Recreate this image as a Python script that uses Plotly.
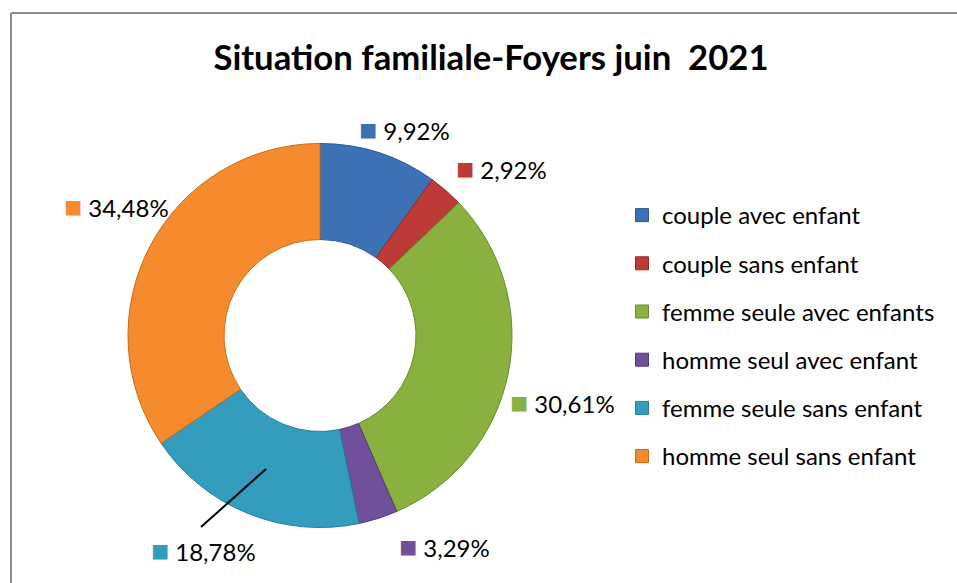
import plotly.graph_objects as go

categories = ["couple avec enfant", "couple sans enfant", "femme seule avec enfants",
              "homme seul avec enfant", "femme seule sans enfant", "homme seul sans enfant"]
values = [9.92, 2.92, 30.61, 3.29, 18.78, 34.48]
colors = ["#3C71B6", "#BE3A36", "#8AB040", "#70509A", "#349DBD", "#F68B2E"]
edge_colors = ["#2B5A94", "#8E2A27", "#6A8A2C", "#54397A", "#257D98", "#C96A18"]
title_text = "Situation familiale-Foyers juin  2021"

W, H = 957, 583
def px(x):
    return x / W
def py(y):
    return (H - y) / H

# label anchor positions (pixels) for each slice label
label_pos = [(357, 128), (454, 167), (508, 401), (397, 545), (149, 549), (62, 205)]

FONT = "Lato"

fig = go.Figure()
fig.add_trace(go.Pie(
    labels=categories, values=values, sort=False, direction="clockwise", rotation=0,
    hole=0.5,
    marker=dict(colors=colors, line=dict(color=edge_colors, width=1)),
    textinfo="none", hoverinfo="label+percent", showlegend=False,
    domain=dict(x=[px(320 - 192), px(320 + 192)], y=[py(528), py(143)]),
))

# legend entries (one group each so the gap can be set)
for c, col, ec in zip(categories, colors, edge_colors):
    fig.add_trace(go.Scatter(
        x=[None], y=[None], mode="markers", name=c, legendgroup=c,
        marker=dict(symbol="square", size=13, color=col, line=dict(color=ec, width=1)),
        showlegend=True,
    ))

annotations = []
for v, col, (lx, ly) in zip(values, colors, label_pos):
    txt = f"<span style='color:{col};font-size:30px'>■</span> " + f"{v:.2f}".replace(".", ",") + "%"
    annotations.append(dict(
        x=px(lx), y=py(ly), xref="paper", yref="paper", xanchor="left", yanchor="middle",
        text=txt, showarrow=False, font=dict(family=FONT, size=24, color="#000000"),
    ))

shapes = [
    dict(type="line", xref="paper", yref="paper", x0=px(11), y0=py(13), x1=1.05, y1=py(13),
         line=dict(color="#8C8C8C", width=2)),
    dict(type="line", xref="paper", yref="paper", x0=px(11), y0=py(13), x1=px(11), y1=-0.05,
         line=dict(color="#8C8C8C", width=2)),
    dict(type="line", xref="paper", yref="paper", x0=px(201), y0=py(527), x1=px(266), y1=py(469),
         line=dict(color="#000000", width=2)),
]

fig.update_layout(
    width=W, height=H, margin=dict(l=0, r=0, t=0, b=0),
    paper_bgcolor="white", plot_bgcolor="white",
    title=dict(text=f"<b>{title_text}</b>", x=px(491), xanchor="center", y=py(58), yanchor="middle",
               font=dict(family=FONT, size=34.7, color="#000000")),
    xaxis=dict(visible=False), yaxis=dict(visible=False),
    legend=dict(x=px(622), y=py(193), xanchor="left", yanchor="top",
                font=dict(family=FONT, size=24, color="#000000"),
                tracegroupgap=14, bgcolor="rgba(0,0,0,0)"),
    annotations=annotations, shapes=shapes,
)

fig.write_html("out.html", config={"displayModeBar": False},
               post_script="document.body.style.margin='0';document.body.style.overflow='hidden';")
